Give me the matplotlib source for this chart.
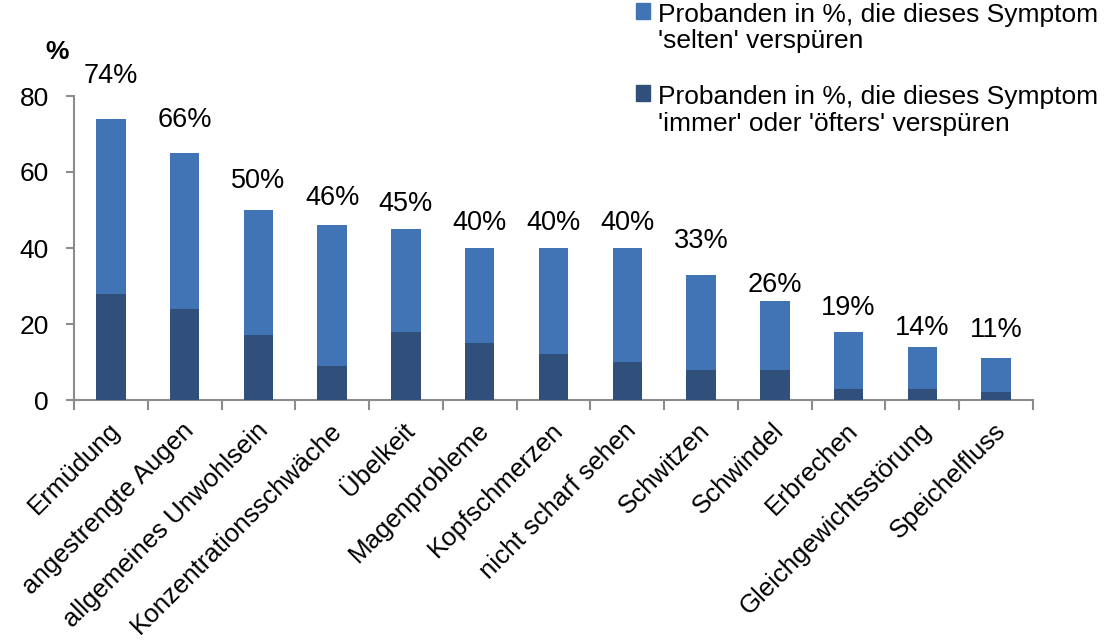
import matplotlib
matplotlib.use("Agg")
import matplotlib.pyplot as plt
from matplotlib.patches import Patch, Rectangle
from matplotlib.legend_handler import HandlerPatch
import matplotlib.transforms as mtransforms
import numpy as np

categories = ["Ermüdung", "angestrengte Augen", "allgemeines Unwohlsein",
              "Konzentrationsschwäche", "Übelkeit", "Magenprobleme",
              "Kopfschmerzen", "nicht scharf sehen", "Schwitzen", "Schwindel",
              "Erbrechen", "Gleichgewichtsstörung", "Speichelfluss"]
totals = [74, 65, 50, 46, 45, 40, 40, 40, 33, 26, 18, 14, 11]
often = [28, 24, 17, 9, 18, 15, 12, 10, 8, 8, 3, 3, 2]
total_labels = ["74%", "66%", "50%", "46%", "45%", "40%", "40%", "40%",
                "33%", "26%", "19%", "14%", "11%"]
# baseline height (in %) of each value label
label_heights = [83.4, 71.8, 55.8, 51.3, 49.7, 44.7, 44.7, 44.7,
                 40.0, 28.4, 22.4, 17.1, 16.6]
legend_labels = ["Probanden in %, die dieses Symptom\n'selten' verspüren",
                 "Probanden in %, die dieses Symptom\n'immer' oder 'öfters' verspüren"]
yticks = [0, 20, 40, 60, 80]

plt.rcParams['font.family'] = ['Liberation Sans', 'DejaVu Sans']

light = "#4174B4"
dark = "#304F7A"
axis_col = "#8C8C8C"

fig = plt.figure(figsize=(11.06, 6.42), dpi=100)
ax = fig.add_axes([74/1106, 1-400/642, (1033-74)/1106, (400-96)/642])

x = np.arange(len(categories))
seldom = [t - o for t, o in zip(totals, often)]
ax.bar(x, often, width=0.4, color=dark, zorder=3)
ax.bar(x, seldom, width=0.4, bottom=often, color=light, zorder=3)

for xi, h, lab in zip(x, label_heights, total_labels):
    ax.text(xi, h, lab, ha="center", va="baseline", fontsize=19.5)

ax.set_xlim(-0.5, len(categories) - 0.5)
ax.set_ylim(0, 80)
ax.set_yticks(yticks)
ax.tick_params(axis='y', labelsize=19, length=6, width=1.5, color=axis_col, pad=12)
ax.set_xticks(np.arange(len(categories) + 1) - 0.5, minor=False)
ax.set_xticklabels([])
ax.tick_params(axis='x', length=7, width=1.5, color=axis_col)
ax.set_xticks(x, minor=True)
ax.set_xticklabels(categories, minor=True, rotation=45, ha="right",
                   rotation_mode="anchor", fontsize=18.6)
ax.tick_params(axis='x', which='minor', length=0, pad=13)
shift = mtransforms.ScaledTranslation(-3/100, 0, fig.dpi_scale_trans)
for lbl in ax.get_xticklabels(minor=True):
    lbl.set_transform(lbl.get_transform() + shift)

for s in ["top", "right"]:
    ax.spines[s].set_visible(False)
for s in ["left", "bottom"]:
    ax.spines[s].set_color(axis_col)
    ax.spines[s].set_linewidth(1.5)

fig.text(57/1106, 1-52/642, "%", fontsize=19, fontweight="bold",
         ha="center", va="center")


def top_square(legend, orig_handle, xdescent, ydescent, width, height, fontsize):
    return Rectangle((-xdescent, -ydescent + 0.66 * fontsize), width, height)


handles = [Patch(color=light), Patch(color=dark)]
leg = fig.legend(handles, legend_labels, loc="upper left",
                 bbox_to_anchor=(633/1106, 1.0), frameon=False, fontsize=19,
                 handlelength=0.55, handleheight=0.55, handletextpad=0.3,
                 labelspacing=1.2, borderaxespad=0.0, borderpad=0.1,
                 handler_map={Patch: HandlerPatch(patch_func=top_square)})
for t in leg.get_texts():
    t.set_linespacing(1.15)

fig.savefig("out.png", dpi=100)
